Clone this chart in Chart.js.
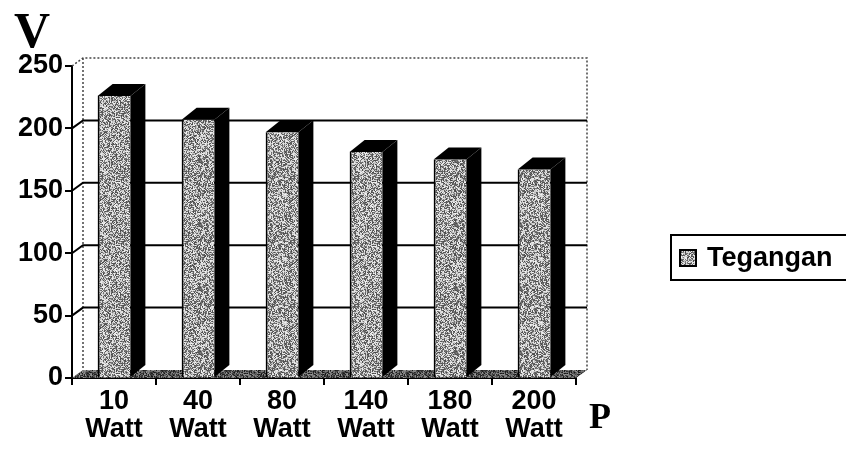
<!DOCTYPE html>
<html lang="id">
<head>
<meta charset="UTF-8">
<title>Tegangan terhadap Daya</title>
<script src="https://cdn.jsdelivr.net/npm/chart.js"></script>
<style>
  html, body { margin: 0; padding: 0; background: #fff; }
  #wrap { position: relative; width: 846px; height: 461px; }
  .huruf { position: absolute; font-family: "Liberation Serif", "DejaVu Serif", serif; font-weight: bold; color: #000; line-height: 1; }
  #labelV { left: 14px; top: 5px; font-size: 50px; }
  #labelP { left: 589px; top: 398px; font-size: 36px; }
</style>
</head>
<body>
<div id="wrap">
  <canvas id="grafik" width="846" height="461"></canvas>
  <div id="labelV" class="huruf">V</div>
  <div id="labelP" class="huruf">P</div>
</div>
<script>
// data
const kategori = [['10', 'Watt'], ['40', 'Watt'], ['80', 'Watt'], ['140', 'Watt'], ['180', 'Watt'], ['200', 'Watt']];
const tegangan = [226, 207, 197, 181, 175, 167];
const namaSeri = 'Tegangan';
const yMin = 0, yMax = 250, yStep = 50;

// offset kedalaman 3D (piksel)
const DINDING = { dx: 11, dy: 8 };
const BALOK = { dx: 15, dy: 12 };
const FONT = { family: 'Arial, "Liberation Sans", sans-serif', size: 27, weight: 'bold' };

// tekstur bintik abu-abu seperti hasil scan
function buatTekstur(gelap, terang) {
  const n = 64;
  const c = document.createElement('canvas');
  c.width = n; c.height = n;
  const g = c.getContext('2d');
  const img = g.createImageData(n, n);
  let s = 12345;
  const acak = () => {
    s |= 0; s = (s + 0x6D2B79F5) | 0;
    let t = Math.imul(s ^ (s >>> 15), 1 | s);
    t = (t + Math.imul(t ^ (t >>> 7), 61 | t)) ^ t;
    return ((t ^ (t >>> 14)) >>> 0) / 4294967296;
  };
  for (let i = 0; i < n * n; i++) {
    const v = acak() < 0.5 ? gelap + acak() * 60 : terang - acak() * 60;
    img.data[i * 4] = img.data[i * 4 + 1] = img.data[i * 4 + 2] = v;
    img.data[i * 4 + 3] = 255;
  }
  g.putImageData(img, 0, 0);
  return g.createPattern(c, 'repeat');
}
const teksturBalok = buatTekstur(70, 245);
const teksturLantai = buatTekstur(20, 150);

const efek3D = {
  id: 'efek3D',
  beforeDatasetsDraw(chart) {
    const { ctx, chartArea: a, scales: { y } } = chart;
    ctx.save();
    // lantai
    ctx.fillStyle = teksturLantai;
    ctx.beginPath();
    ctx.moveTo(a.left, a.bottom);
    ctx.lineTo(a.left + DINDING.dx, a.bottom - DINDING.dy);
    ctx.lineTo(a.right + DINDING.dx, a.bottom - DINDING.dy);
    ctx.lineTo(a.right, a.bottom);
    ctx.closePath();
    ctx.fill();
    // tepi dinding (putus-putus)
    ctx.setLineDash([2, 2]);
    ctx.strokeStyle = '#444';
    ctx.lineWidth = 1.5;
    ctx.beginPath();
    ctx.moveTo(a.left, a.top);
    ctx.lineTo(a.left + DINDING.dx, a.top - DINDING.dy);
    ctx.lineTo(a.right + DINDING.dx, a.top - DINDING.dy);
    ctx.lineTo(a.right + DINDING.dx, a.bottom - DINDING.dy);
    ctx.moveTo(a.left + DINDING.dx, a.top - DINDING.dy);
    ctx.lineTo(a.left + DINDING.dx, a.bottom - DINDING.dy);
    ctx.stroke();
    ctx.setLineDash([]);
    // garis grid di dinding belakang
    ctx.strokeStyle = '#000';
    ctx.lineWidth = 2;
    y.ticks.forEach(t => {
      if (t.value === yMin || t.value === yMax) return;
      const py = y.getPixelForValue(t.value);
      ctx.beginPath();
      ctx.moveTo(a.left, py);
      ctx.lineTo(a.left + DINDING.dx, py - DINDING.dy);
      ctx.lineTo(a.right + DINDING.dx, py - DINDING.dy);
      ctx.stroke();
    });
    ctx.restore();
  },
  afterDatasetsDraw(chart) {
    const { ctx } = chart;
    ctx.save();
    ctx.fillStyle = '#000';
    chart.getDatasetMeta(0).data.forEach(bar => {
      const { x, y, base, width } = bar.getProps(['x', 'y', 'base', 'width'], true);
      const kiri = x - width / 2, kanan = x + width / 2;
      // sisi atas
      ctx.beginPath();
      ctx.moveTo(kiri, y);
      ctx.lineTo(kiri + BALOK.dx, y - BALOK.dy);
      ctx.lineTo(kanan + BALOK.dx, y - BALOK.dy);
      ctx.lineTo(kanan, y);
      ctx.closePath();
      ctx.fill();
      // sisi kanan
      ctx.beginPath();
      ctx.moveTo(kanan, y);
      ctx.lineTo(kanan + BALOK.dx, y - BALOK.dy);
      ctx.lineTo(kanan + BALOK.dx, base - BALOK.dy);
      ctx.lineTo(kanan, base);
      ctx.closePath();
      ctx.fill();
    });
    ctx.restore();
  },
  afterDraw(chart) {
    // legenda dengan kotak
    const { ctx, chartArea: a } = chart;
    const lx = a.right + 95, ly = 235, lw = 180, lh = 45;
    ctx.save();
    ctx.strokeStyle = '#000';
    ctx.lineWidth = 2;
    ctx.strokeRect(lx, ly, lw, lh);
    ctx.fillStyle = teksturBalok;
    ctx.fillRect(lx + 9, ly + 15, 16, 16);
    ctx.strokeRect(lx + 9, ly + 15, 16, 16);
    ctx.fillStyle = '#000';
    ctx.font = `${FONT.weight} ${FONT.size}px ${FONT.family}`;
    ctx.textBaseline = 'middle';
    ctx.fillText(chart.data.datasets[0].label, lx + 36, ly + lh / 2 + 1);
    ctx.restore();
  }
};

new Chart(document.getElementById('grafik'), {
  type: 'bar',
  data: {
    labels: kategori,
    datasets: [{
      label: namaSeri,
      data: tegangan,
      backgroundColor: teksturBalok,
      borderColor: '#000',
      borderWidth: { left: 2, top: 0, right: 0, bottom: 0 },
      borderSkipped: false,
      categoryPercentage: 0.78,
      barPercentage: 0.5
    }]
  },
  options: {
    responsive: false,
    devicePixelRatio: 1,
    animation: false,
    layout: { padding: { top: 66, right: 270, left: 0, bottom: 0 } },
    plugins: {
      legend: { display: false },
      tooltip: { enabled: false }
    },
    scales: {
      x: {
        afterFit(scale) { scale.height = 83; },
        grid: { display: true, drawOnChartArea: false, drawTicks: true, tickLength: 7, color: '#000', lineWidth: 2, offset: true },
        border: { display: true, color: '#000', width: 2 },
        ticks: { color: '#000', font: { ...FONT, lineHeight: 1.05 }, padding: 2, maxRotation: 0, autoSkip: false }
      },
      y: {
        min: yMin,
        max: yMax,
        afterFit(scale) { scale.width = 72; },
        grid: { display: true, drawOnChartArea: false, drawTicks: true, tickLength: 7, color: '#000', lineWidth: 2 },
        border: { display: true, color: '#000', width: 2 },
        ticks: { stepSize: yStep, color: '#000', font: FONT, padding: 2 }
      }
    }
  },
  plugins: [efek3D]
});
</script>
</body>
</html>
